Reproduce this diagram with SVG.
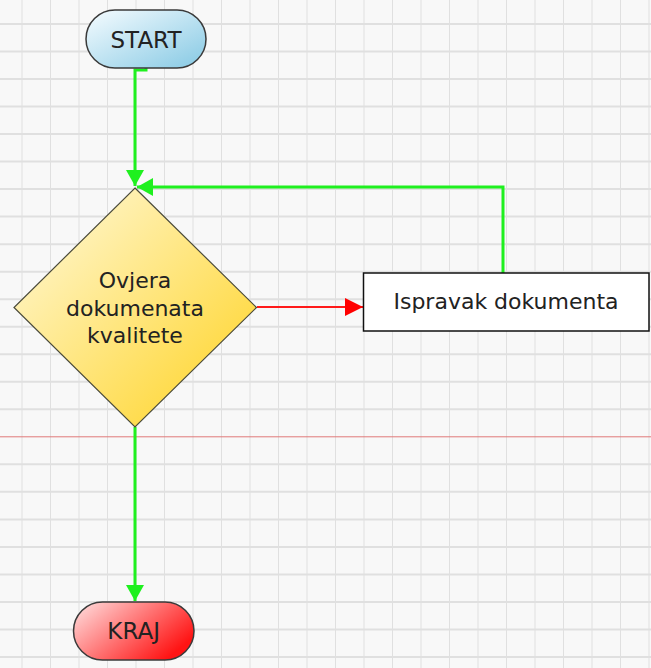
<svg xmlns="http://www.w3.org/2000/svg" width="651" height="668" viewBox="0 0 651 668">
<defs>
<pattern id="gridV" x="21.5" y="0" width="28.5" height="668" patternUnits="userSpaceOnUse">
<rect x="-1" y="0" width="2" height="668" fill="#e0e0e0"/>
</pattern>
<linearGradient id="gStart" x1="0" y1="0" x2="1" y2="1">
<stop offset="0" stop-color="#f6fcff"/>
<stop offset="1" stop-color="#86c9e4"/>
</linearGradient>
<linearGradient id="gDia" x1="0" y1="0" x2="1" y2="1">
<stop offset="0" stop-color="#fffae0"/>
<stop offset="1" stop-color="#ffd21e"/>
</linearGradient>
<linearGradient id="gEnd" x1="0" y1="0" x2="1" y2="0.6">
<stop offset="0" stop-color="#ffe4e4"/>
<stop offset="1" stop-color="#ff1414"/>
</linearGradient>
<marker id="arrG" markerUnits="userSpaceOnUse" markerWidth="20" markerHeight="20" refX="16" refY="9" orient="auto">
<path d="M0,0 L16,9 L0,18 Z" fill="#1ff01f"/>
</marker>
<marker id="arrR" markerUnits="userSpaceOnUse" markerWidth="20" markerHeight="20" refX="18" refY="9" orient="auto">
<path d="M0,0 L18,9 L0,18 Z" fill="#ff0000"/>
</marker>
</defs>
<style>
.lbl{font-family:"DejaVu Sans","Liberation Sans",sans-serif;font-size:22px;fill:#222;text-anchor:middle}
.big{font-size:23px}
.gl{stroke:#e0e0e0;stroke-width:2}
.g{fill:none;stroke:#1ff01f;stroke-width:3}
.r{fill:none;stroke:#ff1a1a;stroke-width:2.2}
</style>
<rect x="0" y="0" width="651" height="668" fill="#f8f8f8"/>
<g id="grid">
<rect x="0" y="0" width="651" height="668" fill="url(#gridV)"/>
<path class="gl" d="M0,24H651M0,51.5H651M0,79H651M0,106.6H651M0,134.1H651M0,161.6H651M0,189.1H651M0,216.6H651M0,244.2H651M0,271.7H651M0,299.2H651M0,326.7H651M0,354.2H651M0,381.8H651M0,409.3H651M0,464.3H651M0,491.8H651M0,519.4H651M0,546.9H651M0,574.4H651M0,601.9H651M0,629.5H651M0,657H651"/>
<path d="M0,436.8H651" stroke="#e07a7a" stroke-width="1"/>
</g>
<g id="connectors">
<path class="g" d="M146,68V70H135V186" marker-end="url(#arrG)"/>
<path class="g" d="M503,273V187H137" marker-end="url(#arrG)"/>
<path class="r" d="M257,307H363" marker-end="url(#arrR)"/>
<path class="g" d="M135,427V601" marker-end="url(#arrG)"/>
</g>
<g id="start">
<rect x="86" y="10" width="120" height="58" rx="29" ry="29" fill="url(#gStart)" stroke="#3a3a3a" stroke-width="1.5"/>
<text class="lbl big" x="146" y="47.5">START</text>
</g>
<g id="decision">
<polygon points="135,188 256.5,307.5 135,427 14,307.5" fill="url(#gDia)" stroke="#4a4a3a" stroke-width="1.2"/>
<text class="lbl" x="135" y="287.5">Ovjera</text>
<text class="lbl" x="135" y="315.5">dokumenata</text>
<text class="lbl" x="135" y="343">kvalitete</text>
</g>
<g id="fix">
<rect x="363.5" y="273" width="285.5" height="58" fill="#ffffff" stroke="#111" stroke-width="1.5"/>
<text class="lbl" x="506" y="309">Ispravak dokumenta</text>
</g>
<g id="end">
<rect x="73.5" y="602" width="120.5" height="58" rx="29" ry="29" fill="url(#gEnd)" stroke="#3a3a3a" stroke-width="1.5"/>
<text class="lbl big" x="133.7" y="638.5">KRAJ</text>
</g>
</svg>
